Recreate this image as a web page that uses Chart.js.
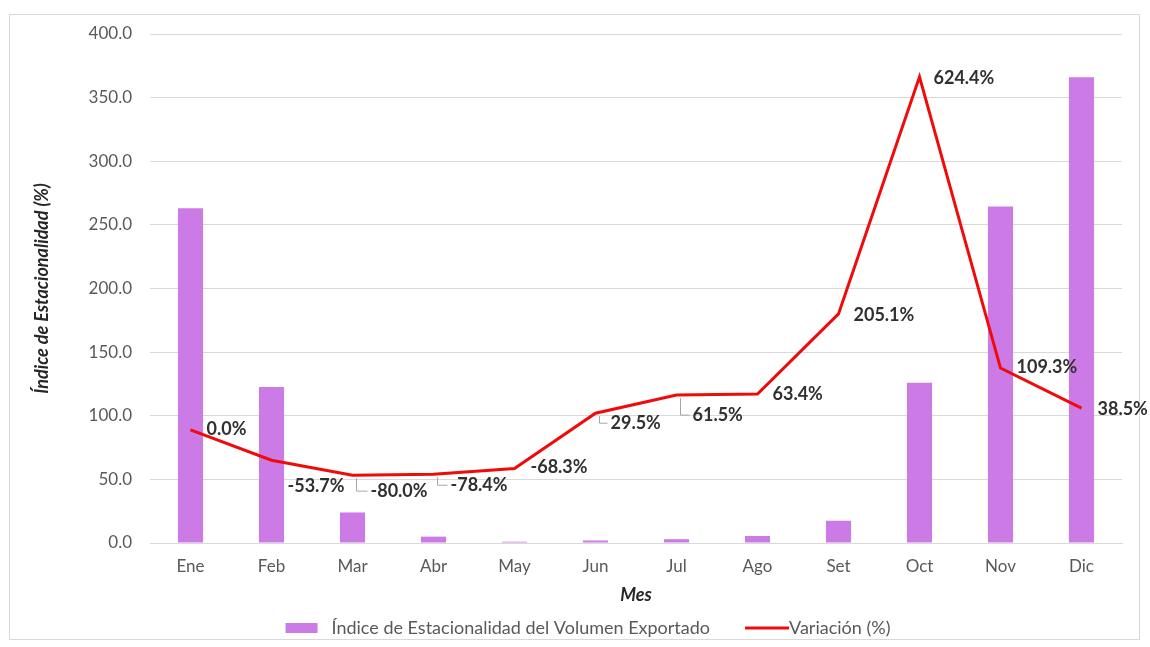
<!DOCTYPE html>
<html>
<head>
<meta charset="utf-8">
<script src="https://cdn.jsdelivr.net/npm/chart.js@4.4.1/dist/chart.umd.min.js"></script>
<style>
  html, body { margin: 0; padding: 0; background: #ffffff; }
  #wrap { position: relative; width: 1150px; height: 647px; }
  #frame { position: absolute; left: 9px; top: 14px; width: 1131px; height: 626px; border: 1px solid #d9d9d9; box-sizing: border-box; }
  canvas { position: absolute; left: 0; top: 0; }
</style>
</head>
<body>
<div id="wrap">
  <div id="frame"></div>
  <canvas id="c" width="1150" height="647"></canvas>
</div>
<script>
// ---- Data ----
const months = ['Ene', 'Feb', 'Mar', 'Abr', 'May', 'Jun', 'Jul', 'Ago', 'Set', 'Oct', 'Nov', 'Dic'];
const indiceEstacionalidad = [263.0, 122.5, 24.0, 5.0, 1.0, 2.0, 3.0, 5.5, 17.5, 126.0, 264.5, 366.0];
const variacion = [0.0, -53.7, -80.0, -78.4, -68.3, 29.5, 61.5, 63.4, 205.1, 624.4, 109.3, 38.5];
const yTicks = [0, 50, 100, 150, 200, 250, 300, 350, 400];
const seriesNames = ['Índice de Estacionalidad del Volumen Exportado', 'Variación (%)'];

// ---- Styling ----
const FONT = 'Lato, "Open Sans", "Noto Sans", sans-serif';
const BAR_COLOR = '#cc7be6';
const LINE_COLOR = '#f00a0a';

// label placement relative to the point (dx to text left, dy to text middle), leader flag
const labelPlacement = [
  {dx: 16, dy: -1}, {dx: 16, dy: 26}, {dx: 18, dy: 16, leader: true}, {dx: 17, dy: 11, leader: true},
  {dx: 16, dy: -1}, {dx: 15, dy: 10, leader: true}, {dx: 16, dy: 20, leader: true}, {dx: 15, dy: 0},
  {dx: 15, dy: 1}, {dx: 14, dy: 1}, {dx: 16, dy: -1}, {dx: 16, dy: 1}
];

// legend swatches: canvas 78 wide, centered on a 60px box; text starts 9px after box
function makeSwatch(x0, x1, h, color) {
  const cv = document.createElement('canvas');
  cv.width = 78; cv.height = 10;
  const cx = cv.getContext('2d');
  cx.fillStyle = color; cx.fillRect(x0, (10 - h) / 2, x1 - x0, h);
  return cv;
}
const barSwatch = makeSwatch(32, 64, 10, BAR_COLOR);
const lineSwatch = makeSwatch(34, 78, 3, LINE_COLOR);

const lineLabels = {
  id: 'lineLabels',
  afterDatasetsDraw(chart) {
    const meta = chart.getDatasetMeta(1);
    const ctx = chart.ctx;
    ctx.save();
    ctx.font = 'bold 18px ' + FONT;
    ctx.textBaseline = 'middle';
    ctx.textAlign = 'left';
    meta.data.forEach((pt, i) => {
      const p = labelPlacement[i];
      const tx = pt.x + p.dx, ty = pt.y + p.dy;
      if (p.leader) {
        ctx.strokeStyle = '#a6a6a6';
        ctx.lineWidth = 1;
        ctx.beginPath();
        ctx.moveTo(pt.x + 4, pt.y + 3);
        ctx.lineTo(pt.x + 4, ty);
        ctx.lineTo(tx - 3, ty);
        ctx.stroke();
      }
      ctx.fillStyle = '#303030';
      ctx.fillText(variacion[i].toFixed(1) + '%', tx, ty);
    });
    ctx.restore();
  }
};

new Chart(document.getElementById('c'), {
  data: {
    labels: months,
    datasets: [
      {
        type: 'bar',
        label: seriesNames[0],
        data: indiceEstacionalidad,
        backgroundColor: BAR_COLOR,
        barPercentage: 0.31,
        categoryPercentage: 1.0,
        yAxisID: 'y',
        order: 2
      },
      {
        type: 'line',
        label: seriesNames[1],
        data: variacion,
        borderColor: LINE_COLOR,
        backgroundColor: LINE_COLOR,
        borderWidth: 3,
        pointRadius: 0,
        tension: 0,
        yAxisID: 'y2',
        order: 1
      }
    ]
  },
  options: {
    responsive: false,
    animation: false,
    devicePixelRatio: 1,
    layout: { padding: { left: 31, right: 28, top: 34, bottom: 0 } },
    scales: {
      x: {
        grid: { display: false, drawTicks: false },
        border: { display: true, color: '#d9d9d9' },
        ticks: { font: { family: FONT, size: 17 }, color: '#595959', padding: 13 },
        title: { display: true, text: 'Mes', font: { family: FONT, size: 18, weight: 'bold', style: 'italic' }, color: '#262626', padding: { top: 0, bottom: 3 } },
        afterFit(scale) { scale.height = 66; }
      },
      y: {
        position: 'left',
        min: yTicks[0],
        max: yTicks[yTicks.length - 1],
        afterBuildTicks(scale) { scale.ticks = yTicks.map(v => ({ value: v })); },
        grid: { color: '#d9d9d9', drawTicks: false, lineWidth: 1 },
        border: { display: false },
        ticks: { font: { family: FONT, size: 17 }, color: '#595959', padding: 18, callback: v => Number(v).toFixed(1) },
        title: { display: true, text: 'Índice de Estacionalidad (%)', font: { family: FONT, size: 18, weight: 'bold', style: 'italic' }, color: '#262626', padding: { top: 0, bottom: 0 } },
        afterFit(scale) { scale.width = 119; }
      },
      y2: {
        position: 'right',
        display: false,
        min: -200,
        max: 700
      }
    },
    plugins: {
      legend: {
        position: 'bottom',
        labels: {
          usePointStyle: true,
          pointStyleWidth: 60,
          font: { family: FONT, size: 18 },
          color: '#595959',
          padding: 10,
          generateLabels(chart) {
            return [
              { text: seriesNames[0], pointStyle: barSwatch, fillStyle: BAR_COLOR, strokeStyle: BAR_COLOR, lineWidth: 0, datasetIndex: 0, fontColor: '#595959' },
              { text: seriesNames[1], pointStyle: lineSwatch, fillStyle: LINE_COLOR, strokeStyle: LINE_COLOR, lineWidth: 0, datasetIndex: 1, fontColor: '#595959' }
            ];
          }
        }
      },
      tooltip: { enabled: false }
    }
  },
  plugins: [lineLabels]
});
</script>
</body>
</html>
